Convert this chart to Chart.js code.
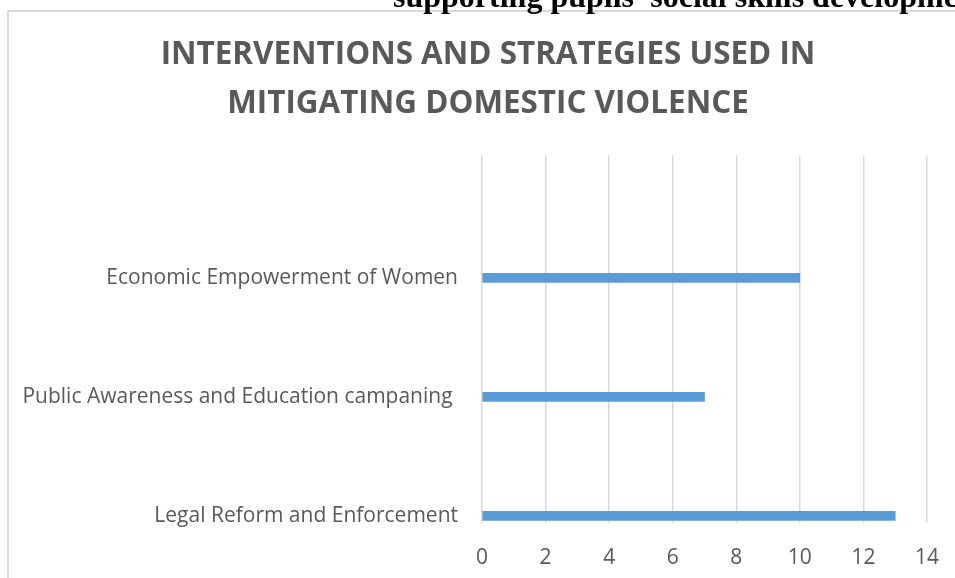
<!DOCTYPE html>
<html><head><meta charset="utf-8">
<script src="https://cdn.jsdelivr.net/npm/chart.js@4.4.1/dist/chart.umd.min.js"></script>
<style>
html,body{margin:0;padding:0;background:#fff;overflow:hidden;width:955px;height:578px;position:relative;}
#frame{position:absolute;left:7px;top:10px;width:1200px;height:1000px;border-left:2px solid #d9d9d9;border-top:2px solid #d9d9d9;}
#wrap{position:absolute;left:0;top:0;width:955px;height:578px;}
#head{position:absolute;left:393px;top:-20.5px;font:bold 32px 'Liberation Serif','Times New Roman',serif;line-height:32px;white-space:nowrap;color:#000;}
</style></head><body>
<div id="frame"></div>
<div id="wrap"><canvas id="c" width="955" height="578"></canvas></div>
<div id="head">supporting pupils’ social skills development</div>
<script>
const categories = ['Economic Empowerment of Women', 'Public Awareness and Education campaning ', 'Legal Reform and Enforcement'];
const values = [10, 7, 13];
const xTicks = [0, 2, 4, 6, 8, 10, 12, 14];
const titleLines = ['INTERVENTIONS AND STRATEGIES USED IN', 'MITIGATING DOMESTIC VIOLENCE'];

const gray = '#595959';
const labelAreaPlugin = {
  id: 'labelArea',
  afterLayout(chart) { chart.scales.y.left = 0; }
};

new Chart(document.getElementById('c'), {
  type: 'bar',
  data: {
    datasets: [{
      data: categories.map((c, i) => ({ x: values[i], y: i })),
      backgroundColor: '#5b9bd5',
      borderWidth: 0,
      barThickness: 9
    }]
  },
  plugins: [labelAreaPlugin],
  options: {
    indexAxis: 'y',
    responsive: false,
    animation: false,
    layout: { padding: { top: 0, left: 49, right: 28, bottom: 0 } },
    plugins: {
      legend: { display: false },
      tooltip: { enabled: false },
      title: {
        display: true,
        text: titleLines,
        color: gray,
        font: { family: 'Open Sans', weight: 'bold', size: 31.4, lineHeight: 1.55 },
        padding: { top: 31, bottom: 27 }
      }
    },
    scales: {
      x: {
        type: 'linear',
        position: 'bottom',
        min: xTicks[0],
        max: xTicks[xTicks.length - 1],
        afterBuildTicks: s => { s.ticks = xTicks.map(v => ({ value: v })); },
        afterFit: s => { s.height = 55; s.paddingLeft = 0; s.paddingRight = 14; },
        ticks: { color: gray, font: { family: 'Open Sans', size: 21 }, padding: 22 },
        grid: { color: '#d9d9d9', lineWidth: 1.5, drawTicks: false },
        border: { display: false }
      },
      y: {
        type: 'linear',
        reverse: true,
        offset: false,
        min: -1.03,
        max: 2.06,
        afterBuildTicks: s => { s.ticks = categories.map((c, i) => ({ value: i })); },
        afterFit: s => { s.width = 433; s.paddingTop = 0; s.paddingBottom = 0; },
        ticks: {
          autoSkip: false,
          color: gray,
          font: { family: 'Open Sans', size: 21 },
          padding: 24,
          callback: v => categories[v]
        },
        grid: { display: false, drawTicks: false },
        border: { display: false }
      }
    }
  }
});
</script>
</body></html>
